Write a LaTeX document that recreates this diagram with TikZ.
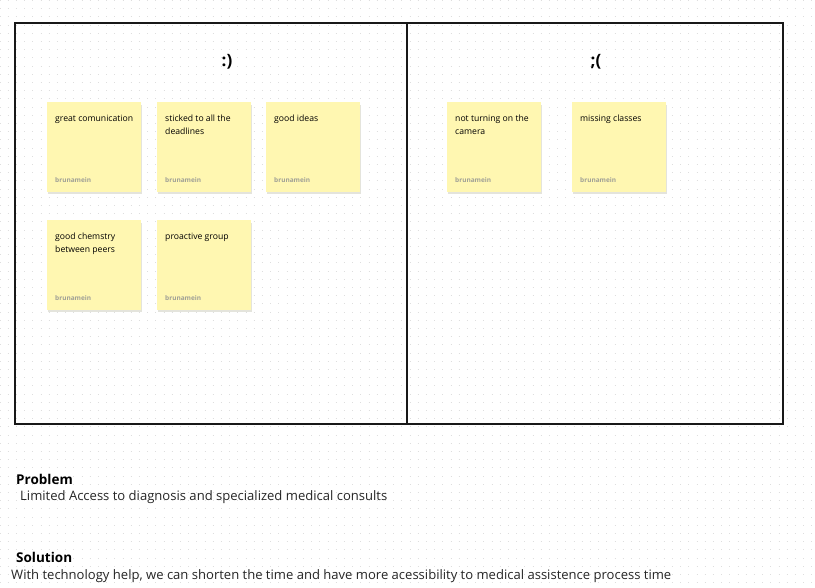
\documentclass[tikz,border=0pt]{standalone}
\usepackage{fontspec}
\setmainfont{Open Sans}
\usepackage{tikz}
\usetikzlibrary{positioning}
\definecolor{notecol}{RGB}{255,247,177}
\definecolor{shadowcol}{RGB}{228,228,220}
\definecolor{dotcol}{RGB}{222,222,222}
\definecolor{authorcol}{RGB}{160,160,150}
\definecolor{framecol}{RGB}{24,24,24}

\begin{document}
\begin{tikzpicture}[x=1pt,y=-1pt]
\tikzset{griddot/.style={dotcol, line width=1.1pt, dash pattern=on 1.1pt off 7.1pt}}
\tikzset{frame/.style={draw=framecol, line width=1.6pt}}
\tikzset{note/.style={fill=notecol, minimum width=94pt, minimum height=90pt, inner sep=0pt, anchor=north west}}
\tikzset{notetext/.style={font=\fontsize{8.65}{13}\selectfont, align=left, inner sep=0pt, anchor=north west}}
\tikzset{author/.style={font=\fontsize{6.5}{7}\selectfont\bfseries, text=authorcol, inner sep=0pt, anchor=west}}
\tikzset{face/.style={font=\fontsize{17}{20}\selectfont\bfseries}}
\tikzset{heading/.style={font=\fontsize{13.5}{16}\selectfont\bfseries, anchor=west, inner sep=0pt}}
\tikzset{body/.style={font=\fontsize{13.05}{15}\selectfont, text=black!85, anchor=west, inner sep=0pt}}
\useasboundingbox[fill=white] (0,0) rectangle (815,588);
% dotted canvas
\foreach \y in {0.5,8.7,...,588} \draw[griddot] (-0.5,\y) -- (815,\y);
% board
\draw[frame] (15,23) rectangle (783,424);
\draw[frame] (407,23) -- (407,424);
\node[face] (happy) at (227,62) {:)};
\node[face] (sad) at (596,62) {;(};
% sticky notes
\foreach \nm/\x/\y/\txt in {gc/47/102/{great comunication}, dl/157/102/{sticked to all the\\deadlines}, gi/266/102/{good ideas}, gp/47/220/{good chemstry\\between peers}, pg/157/220/{proactive group}, cam/447/102/{not turning on the\\camera}, mc/572/102/{missing classes}}{
  \fill[shadowcol] (\x+1,\y+3) rectangle (\x+95,\y+92);
  \node[note] (\nm) at (\x,\y) {};
  \node[notetext, below right=12.5pt and 8pt of \nm.north west, anchor=north west] (\nm-txt) {\txt};
  \node[author, above right=12pt and 8pt of \nm.south west, anchor=west] (\nm-by) {brunamein};
}
% problem / solution
\node[heading] (prob) at (16,479) {Problem};
\node[body] (probtxt) at (20,497) {Limited Access to diagnosis and specialized medical consults};
\node[heading] (sol) at (16,557) {Solution};
\node[body] (soltxt) at (11,576) {With technology help, we can shorten the time and have more acessibility to medical assistence process time};
\end{tikzpicture}
\end{document}
